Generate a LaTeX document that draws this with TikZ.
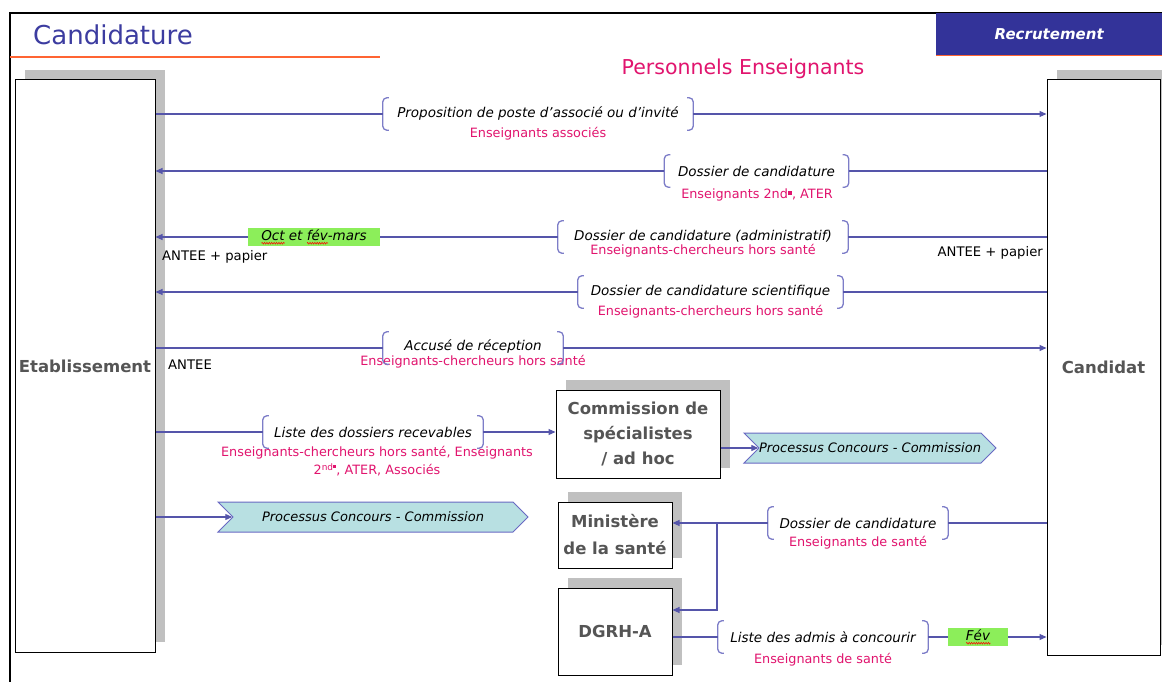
\documentclass[tikz,border=0pt]{standalone}
\usepackage{fontspec}
\setmainfont{DejaVu Sans}
\usetikzlibrary{arrows.meta,shapes.symbols,shadows,calc,decorations.pathmorphing}

\definecolor{lineblue}{RGB}{85,85,170}
\definecolor{brkblue}{RGB}{125,125,200}
\definecolor{navy}{RGB}{51,51,153}
\definecolor{titleblue}{RGB}{60,60,160}
\definecolor{orangeline}{RGB}{255,100,50}
\definecolor{rose}{RGB}{225,20,110}
\definecolor{shadowgray}{RGB}{192,192,192}
\definecolor{boxtext}{RGB}{85,85,85}
\definecolor{lightgreen}{RGB}{140,238,90}
\definecolor{chevfill}{RGB}{184,224,226}
\definecolor{chevdraw}{RGB}{105,105,195}

% small raised square used after ordinal abbreviations
\newcommand\sqmark{\raisebox{0.5ex}{\rule{0.32em}{0.32em}}}
% red wavy spell-check underline
\newsavebox\spellbox
\newcommand\spellmark[1]{\sbox\spellbox{#1}%
  \rlap{\tikz[baseline=0pt,x=1pt,y=1pt]{\draw[red,line width=0.5pt,decorate,
      decoration={zigzag,amplitude=0.9pt,segment length=2.4pt}] (0,-2.8) -- (\wd\spellbox,-2.8);}}%
  \usebox\spellbox}
% round brackets framing a label node
\newcommand\brackets[1]{%
  \draw[brk] ([xshift=6pt]#1.north west) -- (#1.north west) -- (#1.south west) -- ([xshift=6pt]#1.south west);
  \draw[brk] ([xshift=-6pt]#1.north east) -- (#1.north east) -- (#1.south east) -- ([xshift=-6pt]#1.south east);}

\begin{document}
\begin{tikzpicture}[x=1pt,y=1pt,
  ln/.style={draw=lineblue, line width=1.1pt},
  arr/.style={ln, -{Triangle[length=7pt,width=6pt]}},
  brk/.style={draw=brkblue, line width=1.3pt, rounded corners=4pt},
  actor/.style={draw=black, line width=1pt, fill=white,
    general shadow={fill=shadowgray, shadow xshift=10pt, shadow yshift=10pt},
    font=\fontsize{16.5}{25}\selectfont\bfseries, text=boxtext, align=center, inner sep=0pt},
  lbl/.style={font=\fontsize{13.5}{16}\selectfont\itshape, inner sep=0pt, minimum height=32pt},
  pinktxt/.style={text=rose, font=\fontsize{12.8}{18}\selectfont, align=center, inner sep=0pt},
  greenbox/.style={fill=lightgreen, inner sep=0pt, minimum height=18pt,
    font=\fontsize{13.5}{16}\selectfont\itshape},
  chev/.style={signal, signal to=east, signal from=west, signal pointer angle=90,
    fill=chevfill, draw=chevdraw, line width=1pt, minimum height=30pt, inner sep=0pt,
    font=\fontsize{13}{16}\selectfont\itshape},
  note/.style={font=\fontsize{13.2}{15}\selectfont, inner sep=0pt}]

\useasboundingbox (0,0) rectangle (1162,681);
\fill[white] (0,0) rectangle (1162,681);

% page frame
\draw[line width=2pt] (10,-10) -- (10,668) -- (1175,668);

% header
\node[anchor=west, text=titleblue, font=\fontsize{26}{30}\selectfont, inner sep=0pt] (title) at (33,646) {Candidature};
\draw[orangeline, line width=1.5pt] (10,624) -- (380,624);
\node[fill=navy, minimum width=226pt, minimum height=42pt, anchor=north west, inner sep=0pt,
  text=white, font=\fontsize{15}{17}\selectfont\bfseries\itshape] (rec) at (936,668) {Recrutement};
\draw[orangeline, line width=1.2pt] (rec.south west) -- (rec.south east);
\node[text=rose, font=\fontsize{20.5}{24}\selectfont, inner sep=0pt] (subtitle) at (743,612) {Personnels Enseignants};

% actors
\node[actor, minimum width=140pt, minimum height=572pt] (etab) at (85,315) {Etablissement};
\node[actor, minimum width=113pt, minimum height=575pt] (cand) at (1103.5,313.5) {Candidat};
\node[actor, minimum width=164pt, minimum height=88pt] (comm) at (638,247) {Commission de\\spécialistes\\/ ad hoc};
\node[actor, minimum width=114pt, minimum height=66pt, font=\fontsize{16.5}{27}\selectfont\bfseries] (mini) at (615,146) {Ministère\\de la santé};
\node[actor, minimum width=114pt, minimum height=87pt] (dgrh) at (615,49.5) {DGRH-A};

% labelled exchanges
\node[lbl, minimum width=310pt] (l1) at (538,567) {Proposition de poste d’associé ou d’invité};
\node[pinktxt] (p1) at (538,547) {Enseignants associés};
\brackets{l1}
\draw[ln] (etab.east |- l1) -- (l1.west);
\draw[arr] (l1.east) -- (cand.west |- l1);

\node[lbl, minimum width=184pt] (l2) at (756.5,510) {\raisebox{-5pt}{Dossier de candidature}};
\node[pinktxt] (p2) at (757,486) {Enseignants 2nd\sqmark, ATER};
\brackets{l2}
\draw[ln] (cand.west |- l2) -- (l2.east);
\draw[arr] (l2.west) -- (etab.east |- l2);

\node[lbl, minimum width=290pt] (l3) at (703,444) {\raisebox{4pt}{Dossier de candidature (administratif)}};
\node[pinktxt] (p3) at (703,430) {Enseignants-chercheurs hors santé};
\brackets{l3}
\node[greenbox, minimum width=132pt] (g1) at (314,444) {\spellmark{Oct} et \spellmark{fév}-mars};
\draw[ln] (cand.west |- l3) -- (l3.east);
\draw[ln] (l3.west) -- (g1.east);
\draw[arr] (g1.west) -- (etab.east |- g1);
\node[note, anchor=west] (ap1) at (162,424) {ANTEE + papier};
\node[note, anchor=east] (ap2) at (1043,428) {ANTEE + papier};

\node[lbl, minimum width=265pt] (l4) at (710.5,389) {Dossier de candidature scientifique};
\node[pinktxt] (p4) at (710.5,369) {Enseignants-chercheurs hors santé};
\brackets{l4}
\draw[ln] (cand.west |- l4) -- (l4.east);
\draw[arr] (l4.west) -- (etab.east |- l4);

\node[lbl, minimum width=180pt] (l5) at (473,333) {\raisebox{6pt}{Accusé de réception}};
\node[pinktxt] (p5) at (473,319) {Enseignants-chercheurs hors santé};
\brackets{l5}
\draw[ln] (etab.east |- l5) -- (l5.west);
\draw[arr] (l5.east) -- (cand.west |- l5);
\node[note, anchor=west] (an) at (168,316) {ANTEE};

\node[lbl, minimum width=220pt] (l6) at (373,249) {Liste des dossiers recevables};
\node[pinktxt] (p6) at (377,220) {Enseignants-chercheurs hors santé, Enseignants\\2\textsuperscript{nd\sqmark}, ATER, Associés};
\brackets{l6}
\draw[ln] (etab.east |- l6) -- (l6.west);
\draw[arr] (l6.east) -- (comm.west |- l6);

\node[chev, minimum width=250pt] (chev1) at (870,233) {Processus Concours - Commission};
\draw[arr] (comm.east |- chev1) -- (chev1.west);

\node[chev, minimum width=310pt] (chev2) at (373,164) {Processus Concours - Commission};
\draw[arr] (etab.east |- chev2) -- (chev2.west);

\node[lbl, minimum width=180pt] (l8) at (858,158) {Dossier de candidature};
\node[pinktxt] (p8) at (858,138) {Enseignants de santé};
\brackets{l8}
\coordinate (split) at (717,158);
\draw[ln] (cand.west |- l8) -- (l8.east);
\draw[ln] (l8.west) -- (split);
\draw[arr] (split) -- (mini.east |- split);
\draw[arr] (split) |- ([yshift=21.5pt]dgrh.east);

\node[lbl, minimum width=210pt] (l10) at (823,44) {Liste des admis à concourir};
\node[pinktxt] (p10) at (823,21) {Enseignants de santé};
\brackets{l10}
\node[greenbox, minimum width=60pt] (fev) at (978,44) {\spellmark{Fév}};
\draw[ln] (dgrh.east |- l10) -- (l10.west);
\draw[ln] (l10.east) -- (fev.west);
\draw[arr] (fev.east) -- (cand.west |- fev);

\end{tikzpicture}
\end{document}
